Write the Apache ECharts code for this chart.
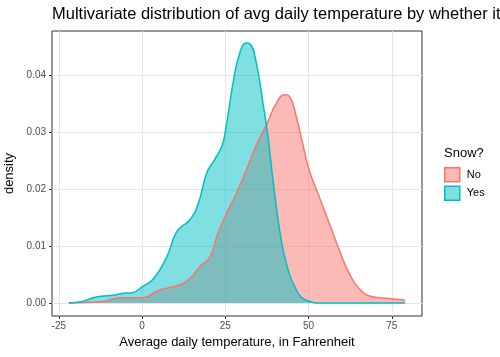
<!DOCTYPE html>
<html>
<head>
<meta charset="utf-8">
<script src="https://cdn.jsdelivr.net/npm/echarts@6/dist/echarts.min.js"></script>
<style>html,body{margin:0;padding:0;background:#fff}#c{width:500px;height:357px}</style>
</head>
<body>
<div id="c"></div>
<script>
const categories = ['No', 'Yes'];
const xTicks = [-25, 0, 25, 50, 75];
const yTicks = [0, 0.01, 0.02, 0.03, 0.04];
const noTemp = [-22, -12.5, -6.5, -2.5, 0.2, 4.5, 7.4, 11.4, 14.4, 17.4, 20.4, 22.4, 25.1, 28.3, 31.3, 34.3, 37.3, 40.3, 42.8, 44.3, 46.3, 48.2, 50.2, 53.2, 56.2, 59.2, 62.2, 65.1, 69.1, 74.1, 79];
const noDensity = [0, 0.0002, 0.0009, 0.0009, 0.0009, 0.0021, 0.0026, 0.0032, 0.0043, 0.0064, 0.0081, 0.0116, 0.0154, 0.0192, 0.0233, 0.0277, 0.0312, 0.035, 0.0365, 0.0362, 0.0327, 0.028, 0.0233, 0.0186, 0.014, 0.0093, 0.0052, 0.0026, 0.0011, 0.0008, 0.0005];
const yesTemp = [-22, -18.4, -13.4, -9.5, -5.5, -3, 0.2, 3.5, 7.4, 10.1, 11.9, 14.4, 16.9, 19.4, 21.4, 23.9, 25.1, 27.3, 29.3, 31.3, 32.3, 34.3, 36.3, 37.8, 39.3, 41.3, 43.3, 46.3, 49.7, 54, 79];
const yesDensity = [0, 0.0002, 0.0011, 0.0013, 0.0017, 0.0018, 0.0029, 0.0043, 0.0081, 0.0122, 0.0134, 0.0146, 0.0175, 0.0228, 0.0248, 0.0274, 0.0304, 0.0385, 0.0438, 0.0456, 0.0455, 0.0421, 0.035, 0.0292, 0.0216, 0.0128, 0.007, 0.0023, 0.0004, 0, 0];

const FONT = '"Liberation Sans", Arial, Helvetica, sans-serif';
const colors = {No: '#F8766D', Yes: '#00BFC4'};
const fills = {No: 'rgba(248,118,109,0.5)', Yes: 'rgba(0,191,196,0.5)'};
const pairs = (xs, ys) => xs.map((x, i) => [x, ys[i]]);
const seriesData = {No: pairs(noTemp, noDensity), Yes: pairs(yesTemp, yesDensity)};

const chart = echarts.init(document.getElementById('c'), null, {renderer: 'canvas'});
chart.setOption({
  animation: false,
  backgroundColor: '#fff',
  title: [
    {text: 'Multivariate distribution of avg daily temperature by whether it', left: 52, top: 6, padding: 0,
     textStyle: {fontFamily: FONT, fontSize: 16.5, fontWeight: 'normal', color: '#000'}},
    {text: 'Snow?', left: 444, top: 147, padding: 0,
     textStyle: {fontFamily: FONT, fontSize: 13, fontWeight: 'normal', color: '#000'}}
  ],
  legend: {
    orient: 'vertical', left: 444, top: 167, padding: 0, itemWidth: 15, itemHeight: 14, itemGap: 3,
    icon: 'rect',
    textStyle: {fontFamily: FONT, fontSize: 11, color: '#000', padding: [0, 0, 0, 2]},
    data: categories.map(c => ({name: c, itemStyle: {color: fills[c], borderColor: colors[c], borderWidth: 1.5}}))
  },
  grid: {left: 52, right: 78, top: 31, bottom: 41, show: true, borderColor: '#333', borderWidth: 1,
    backgroundColor: 'transparent', containLabel: false, outerBoundsMode: 'none'},
  xAxis: {
    type: 'value', min: -27.05, max: 84.05,
    name: 'Average daily temperature, in Fahrenheit', nameLocation: 'middle', nameGap: 19,
    nameTextStyle: {fontFamily: FONT, fontSize: 13, color: '#000'},
    axisLine: {show: false, onZero: false},
    axisTick: {show: true, length: 3, customValues: xTicks, lineStyle: {color: '#333'}},
    axisLabel: {customValues: xTicks, margin: 5, fontFamily: FONT, fontSize: 10, color: '#4D4D4D'},
    splitLine: {show: true, lineStyle: {color: '#E5E5E5', width: 1}}
  },
  yAxis: {
    type: 'value', min: -0.00228, max: 0.0477,
    name: 'density', nameLocation: 'middle', nameGap: 34, nameRotate: 90,
    nameTextStyle: {fontFamily: FONT, fontSize: 13, color: '#000'},
    axisLine: {show: false, onZero: false},
    axisTick: {show: true, length: 3, customValues: yTicks, lineStyle: {color: '#333'}},
    axisLabel: {customValues: yTicks, margin: 6, fontFamily: FONT, fontSize: 10, color: '#4D4D4D',
      formatter: v => v.toFixed(2)},
    splitLine: {show: true, lineStyle: {color: '#E5E5E5', width: 1}}
  },
  series: categories.map(c => ({
    name: c, type: 'line', data: seriesData[c], smooth: 0.5,
    showSymbol: false, symbol: 'none', clip: true,
    lineStyle: {color: colors[c], width: 1.5},
    itemStyle: {color: fills[c], borderColor: colors[c]},
    areaStyle: {color: fills[c], opacity: 1, origin: 0}
  }))
});
</script>
</body>
</html>
